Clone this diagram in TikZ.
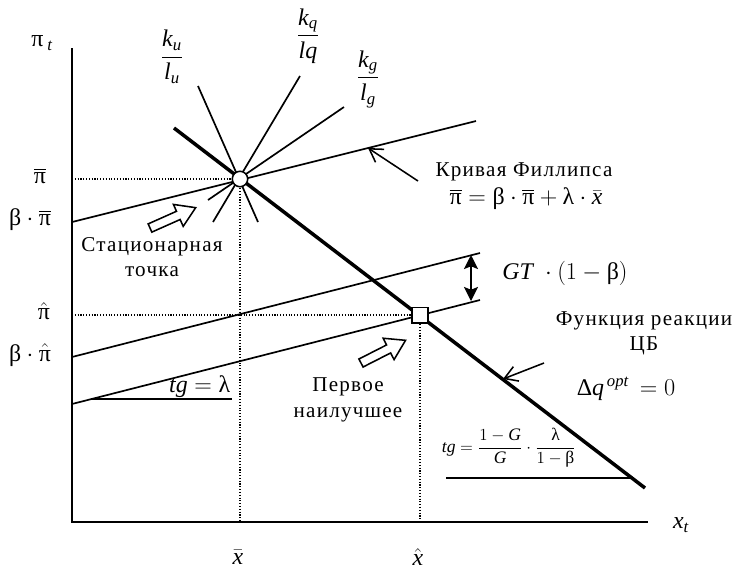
\documentclass[tikz,border=0pt]{standalone}
\usepackage{amsmath}
\usepackage{fontspec}
\setmainfont{Liberation Serif}
\newfontfamily\spacedfont{Liberation Serif}[LetterSpace=6]
\usetikzlibrary{arrows.meta}

\newcommand{\grk}[1]{\textup{#1}}
\newcommand{\itl}[1]{\mathit{#1}}

\tikzset{
  thinline/.style={line width=1.2pt},
  boldline/.style={line width=2.5pt},
  guide/.style={line width=0.8pt, dash pattern=on 0.8pt off 1.2pt},
  lbl/.style={font=\fontsize{15}{18}\selectfont, inner sep=1pt},
  mlbl/.style={font=\fontsize{17}{20}\selectfont, inner sep=1pt},
  rulbl/.style={font=\fontsize{15}{18}\selectfont\spacedfont, inner sep=1pt, align=center},
  pointer/.style={line width=1.1pt, -{Straight Barb[length=9pt,width=11pt]}},
  statpt/.style={circle, draw, line width=1.1pt, fill=white, minimum size=11pt, inner sep=0pt},
  bestpt/.style={rectangle, draw, line width=1.1pt, fill=white, minimum size=11pt, inner sep=0pt},
  blockarrow/.pic={\draw[line width=1.1pt, fill=white] (0,-4.5) -- (31,-4.5) -- (31,-12) -- (50,0) -- (31,12) -- (31,4.5) -- (0,4.5) -- cycle;}
}

\begin{document}
\begin{tikzpicture}[x=0.025cm, y=-0.025cm]
\useasboundingbox (0,0) rectangle (738,575);
% axes
\coordinate (orig) at (72,522);
\coordinate (ytop) at (72,48);
\coordinate (xend) at (648,522);
\draw[thinline] (ytop) -- (orig) -- (xend);
\node[mlbl] (pit) at (42,43) {$\grk{π}\,_{\itl{t}}$};
\node[mlbl] (xt) at (681,525) {$\itl{x}_{\itl{t}}$};

% key points
\coordinate (stat) at (240,179);
\coordinate (best) at (420,315);
\coordinate (pibar) at (72,179);
\coordinate (pihat) at (72,315);
\coordinate (xbar) at (240,522);
\coordinate (xhat) at (420,522);
\draw[guide] (pibar) -- (stat) -- (xbar);
\draw[guide] (pihat) -- (best) -- (xhat);

% Phillips curves
\coordinate (ph1) at (72,222);  \coordinate (ph2) at (476,121);
\coordinate (md1) at (72,357);  \coordinate (md2) at (480,253);
\coordinate (lw1) at (72,404);  \coordinate (lw2) at (480,300);
\draw[thinline] (ph1) -- (ph2);
\draw[thinline] (md1) -- (md2);
\draw[thinline] (lw1) -- (lw2);

% reaction function
\coordinate (rf1) at (174,128);
\coordinate (rf2) at (645,488);
\draw[boldline] (rf1) -- (rf2);

% indifference lines through the stationary point
\foreach \ax/\ay/\bx/\by in {198/86/258/222, 300/76/213/222, 344/107/208/200}
  \draw[thinline] (\ax,\ay) -- (\bx,\by);

% slopes
\coordinate (tga) at (92,399);
\coordinate (tgb) at (232,399);
\draw[thinline] (tga) -- (tgb);
\node[mlbl, anchor=south east] (tglam) at (tgb) {$\itl{tg} = \grk{λ}$};
\coordinate (tgc) at (446,478);
\coordinate (tgd) at (634,478);
\draw[thinline] (tgc) -- (tgd);
\node[font=\fontsize{12.5}{15}\selectfont] (tgfrac) at (509,448)
  {$\itl{tg} = \dfrac{1-\itl{G}}{\itl{G}}\cdot\dfrac{\grk{λ}}{1-\grk{β}}$};

% gap between curves
\coordinate (gaptop) at (471,255);
\coordinate (gapbot) at (471,301);
\draw[line width=1.3pt, {Stealth[length=10pt,width=10pt,inset=2pt]}-{Stealth[length=10pt,width=10pt,inset=2pt]}] (gaptop) -- (gapbot);
\node[mlbl] (gt) at (565,273) {$\itl{GT}\;\cdot\left(1-\grk{β}\right)$};

% points
\node[statpt] (statnode) at (stat) {};
\node[bestpt] (bestnode) at (best) {};

% axis labels
\node[mlbl] (lpibar) at (40,176) {$\overline{\grk{π}}$};
\node[mlbl] (lbpibar) at (30,220) {$\grk{β}\cdot\overline{\grk{π}}$};
\node[mlbl] (lpihat) at (44,311) {$\hat{\grk{π}}$};
\node[mlbl] (lbpihat) at (30,355) {$\grk{β}\cdot\hat{\grk{π}}$};
\node[mlbl] (lxbar) at (238,557) {$\bar{\itl{x}}$};
\node[mlbl] (lxhat) at (418,557) {$\hat{\itl{x}}$};

% fractions
\node[mlbl] (fu) at (172,57) {$\dfrac{\itl{k}_{\itl{u}}}{\itl{l}_{\itl{u}}}$};
\node[mlbl] (fq) at (308,36) {$\dfrac{\itl{k}_{\itl{q}}}{\itl{lq}}$};
\node[mlbl] (fg) at (368,79) {$\dfrac{\itl{k}_{\itl{g}}}{\itl{l}_{\itl{g}}}$};

% text labels
\node[rulbl] (phil) at (524,172) {Кривая Филлипса};
\node[mlbl] (philf) at (526,199)
  {$\overline{\grk{π}} = \grk{β}\cdot\overline{\grk{π}} + \grk{λ}\cdot\bar{\itl{x}}$};
\coordinate (philtail) at (418,181);
\coordinate (philtip) at (368,148);
\draw[pointer] (philtail) -- (philtip);

\node[rulbl] (reac) at (644,333) {Функция реакции\\ЦБ};
\node[mlbl] (dq) at (626,389) {$\grk{Δ}\itl{q}^{\,\itl{opt}} \,= 0$};
\coordinate (reactail) at (544,363);
\coordinate (reactip) at (503,379);
\draw[pointer] (reactail) -- (reactip);

\node[rulbl] (statlbl) at (152,257) {Стационарная\\точка};
\node[rulbl] (bestlbl) at (348,400) {Первое\\наилучшее};
\pic[rotate=24] at (150,228) {blockarrow};
\pic[rotate=27] at (361,363) {blockarrow};
\end{tikzpicture}
\end{document}
